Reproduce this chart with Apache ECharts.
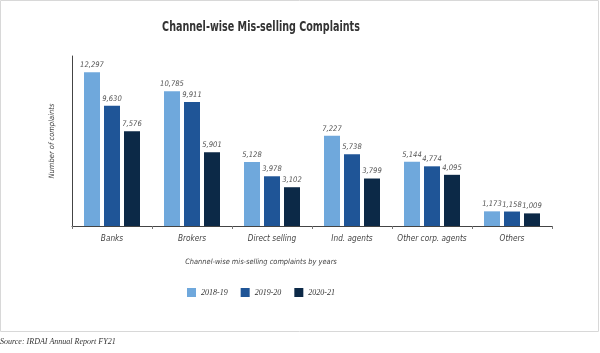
<!DOCTYPE html>
<html>
<head>
<meta charset="utf-8">
<script src="https://cdn.jsdelivr.net/npm/echarts@6/dist/echarts.min.js"></script>
<style>
  html, body { margin: 0; padding: 0; background: #fff; }
  #chart { width: 600px; height: 353px; }
</style>
</head>
<body>
<div id="chart"></div>
<script>
const channels = ['Banks', 'Brokers', 'Direct selling', 'Ind. agents', 'Other corp. agents', 'Others']
const years = ['2018-19', '2019-20', '2020-21']
const fy19 = [12297, 10785, 5128, 7227, 5144, 1173]
const fy20 = [9630, 9911, 3978, 5738, 4774, 1158]
const fy21 = [7576, 5901, 3102, 3799, 4095, 1009]
const colors = ['#6fa8dc', '#1f5597', '#0c2947']

const sansFont = "'DejaVu Sans Condensed', Roboto, sans-serif"
const chart = echarts.init(document.getElementById('chart'))

const labelStyle = {
  show: true,
  position: 'top',
  distance: 3,
  fontSize: 7.6,
  fontStyle: 'italic',
  color: '#555',
  fontFamily: sansFont,
  formatter: (p) => p.value.toLocaleString('en-US'),
}

chart.setOption({
  animation: false,
  graphic: [
    {
      type: 'rect',
      shape: { x: 0.5, y: 0.5, width: 598, height: 331 },
      style: { fill: 'none', stroke: '#d8d8d8', lineWidth: 1 },
    },
    {
      // chart title, squeezed to match the condensed face of the original
      type: 'text',
      x: 261,
      y: 27,
      scaleX: 0.79,
      style: {
        text: 'Channel-wise Mis-selling Complaints',
        align: 'center',
        verticalAlign: 'middle',
        fontSize: 13.5,
        fontWeight: 'bold',
        fill: '#333',
        fontFamily: sansFont,
      },
    },
    {
      type: 'text',
      x: 261,
      y: 262,
      style: {
        text: 'Channel-wise mis-selling complaints by years',
        align: 'center',
        verticalAlign: 'middle',
        fontSize: 7.4,
        fontStyle: 'italic',
        fill: '#444',
        fontFamily: sansFont,
      },
    },
    {
      type: 'text',
      left: 0,
      top: 338,
      style: { text: 'Source: IRDAI Annual Report FY21', fontSize: 8, fontStyle: 'italic', fill: '#333', fontFamily: 'Liberation Serif' },
    },
  ],
  legend: {
    data: years,
    top: 288,
    left: 187,
    padding: 0,
    itemWidth: 9,
    itemHeight: 9,
    itemGap: 13,
    icon: 'rect',
    textStyle: { fontSize: 8, fontStyle: 'italic', color: '#333', fontFamily: 'Liberation Serif' },
  },
  grid: { left: 72, right: 48, top: 56, bottom: 127 },
  xAxis: {
    type: 'category',
    data: channels,
    axisLine: { lineStyle: { color: '#444', width: 1 } },
    axisTick: { show: true, lineStyle: { color: '#777' }, length: 3 },
    axisLabel: { interval: 0, fontSize: 8.2, fontStyle: 'italic', color: '#444', margin: 9, fontFamily: sansFont },
  },
  yAxis: {
    type: 'value',
    min: 0,
    max: 13600,
    name: 'Number of complaints',
    nameLocation: 'middle',
    nameGap: 16,
    nameTextStyle: { fontSize: 7.5, fontStyle: 'italic', color: '#444', fontFamily: sansFont },
    axisLine: { show: true, lineStyle: { color: '#444', width: 1 } },
    axisTick: { show: false },
    axisLabel: { show: false },
    splitLine: { show: false },
  },
  series: [
    { name: years[0], type: 'bar', data: fy19, barWidth: 16, barGap: '25%', itemStyle: { color: colors[0] }, label: labelStyle },
    { name: years[1], type: 'bar', data: fy20, barWidth: 16, barGap: '25%', itemStyle: { color: colors[1] }, label: labelStyle },
    { name: years[2], type: 'bar', data: fy21, barWidth: 16, barGap: '25%', itemStyle: { color: colors[2] }, label: labelStyle },
  ],
})
</script>
</body>
</html>
